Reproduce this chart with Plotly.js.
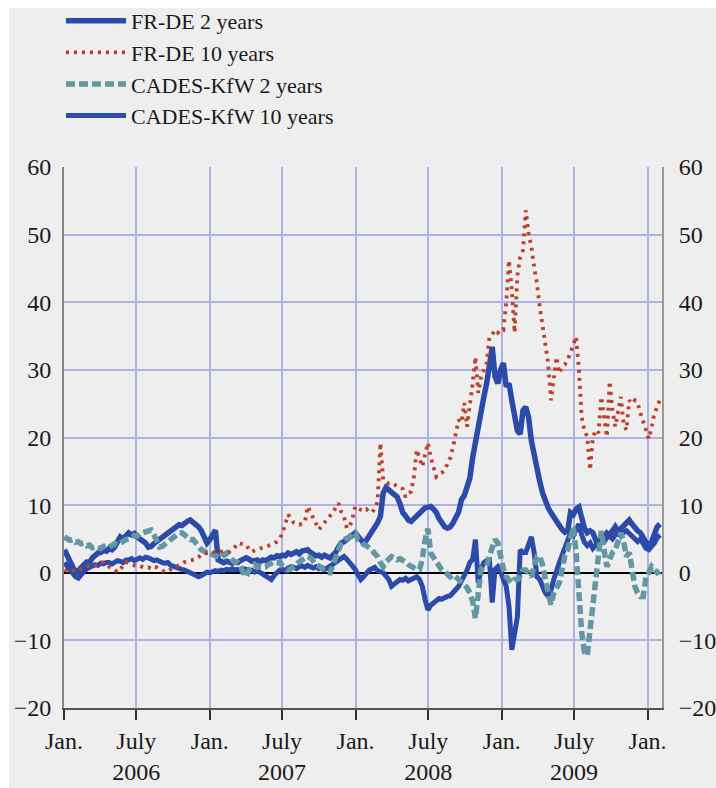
<!DOCTYPE html>
<html>
<head>
<meta charset="utf-8">
<script src="https://cdn.plot.ly/plotly-3.0.1.min.js"></script>
<style>
html,body{margin:0;padding:0;background:#ffffff;}
#chart{width:716px;height:788px;}
</style>
</head>
<body>
<div id="chart"></div>
<script>
// Weekly observations starting Monday 2 Jan 2006
const startDate = '2006-01-02';
const stepDays = 7;

// Spreads in basis points
const frde2y = [
  3.4, 2.6, 1.6, 0.8, 0.0, 0.3, 0.9, 1.2, 1.6, 1.5,
  2.2, 2.6, 2.9, 3.0, 3.3, 3.2, 3.6, 3.4, 3.8, 4.6,
  5.3, 5.0, 5.5, 5.9, 5.6, 5.8, 5.3, 5.0, 4.9, 4.4,
  3.8, 3.9, 4.3, 4.6, 4.9, 5.2, 5.6, 6.0, 6.3, 6.6,
  6.8, 7.1, 7.0, 7.4, 7.6, 7.8, 7.5, 7.2, 6.8, 6.2,
  5.3, 4.4, 4.9, 5.6, 6.3, 1.9, 1.6, 1.5, 1.7, 1.6,
  1.4, 1.6, 1.5, 1.8, 2.0, 2.2, 2.0, 1.7, 1.8, 1.9,
  1.6, 1.9, 1.8, 2.1, 2.3, 2.2, 2.5, 2.4, 2.6, 2.5,
  2.9, 2.7, 3.0, 3.1, 2.8, 3.2, 3.3, 3.4, 3.0, 2.7,
  2.5, 2.6, 2.3, 2.6, 2.4, 2.2, 2.6, 3.0, 3.8, 4.4,
  4.6, 4.9, 5.1, 5.6, 5.9, 5.4, 4.9, 4.4, 4.8, 5.4,
  5.9, 6.6, 7.4, 8.3, 11.8, 12.6, 12.3, 12.0, 11.6, 11.2,
  10.2, 8.9, 8.4, 7.8, 7.6, 8.0, 8.3, 8.8, 9.3, 9.6,
  9.7, 9.8, 9.4, 8.9, 8.0, 7.2, 6.8, 6.6, 6.8, 7.4,
  8.3, 9.0, 10.8, 11.4, 12.7, 14.0, 17.0, 19.5, 22.0, 24.0,
  26.0, 28.0, 31.0, 33.4, 29.0, 28.0, 30.0, 31.0, 27.5, 28.0,
  25.5, 23.5, 21.0, 20.5, 24.0, 24.5, 23.0, 19.5, 17.2, 15.2,
  13.5, 11.8, 10.6, 9.6, 8.9, 8.2, 7.4, 7.0, 6.4, 6.0,
  6.2, 8.9, 8.6, 9.4, 9.7, 7.8, 6.6, 5.9, 6.2, 5.9,
  4.8, 3.8, 4.6, 5.2, 5.9, 5.6, 6.2, 6.8, 6.1, 6.6,
  7.0, 7.5, 7.8, 7.2, 6.6, 6.2, 5.9, 5.2, 4.6, 3.8,
  4.6, 5.5, 6.8, 7.2
];

const frde10y = [
  0.4, 0.2, 0.1, 0.3, 0.5, 0.4, 0.6, 0.7, 0.9, 1.0,
  1.2, 1.1, 1.4, 1.6, 1.5, 1.3, 0.9, 0.7, 0.4, 0.1,
  0.5, 1.0, 1.6, 1.4, 1.2, 1.0, 0.9, 1.0, 0.8, 0.7,
  0.8, 0.6, 0.9, 0.8, 0.5, 0.3, 0.1, 0.3, 0.5, 0.7,
  0.8, 1.1, 1.3, 1.6, 1.7, 1.8, 1.9, 2.0, 2.3, 2.7,
  2.8, 2.9, 3.0, 3.1, 3.0, 2.9, 3.1, 3.2, 3.0, 3.1,
  3.4, 3.8, 4.4, 4.3, 4.2, 4.1, 3.5, 3.1, 3.3, 3.5,
  3.6, 3.7, 3.8, 4.0, 4.2, 4.4, 4.6, 5.0, 5.9, 7.2,
  8.6, 8.0, 7.4, 7.2, 7.1, 7.3, 7.5, 9.8, 8.9, 8.2,
  7.2, 6.4, 6.9, 7.4, 7.8, 8.4, 8.9, 9.6, 10.3, 9.0,
  8.3, 6.6, 6.8, 8.0, 9.8, 9.5, 9.3, 9.1, 9.4, 9.0,
  8.9, 9.5, 10.5, 19.2, 13.7, 13.5, 13.2, 13.3, 13.0, 12.8,
  12.6, 12.4, 11.2, 11.8, 12.0, 14.2, 18.2, 17.0, 15.7, 17.5,
  19.2, 17.1, 15.6, 14.2, 14.6, 14.8, 15.2, 16.2, 17.0, 18.6,
  20.7, 22.6, 22.2, 25.1, 21.6, 24.5, 28.0, 31.9, 26.6, 29.0,
  30.0, 31.0, 34.9, 35.2, 35.9, 35.5, 36.0, 35.9, 39.9, 46.2,
  41.8, 35.5, 44.0, 46.7, 47.7, 53.6, 50.2, 48.2, 45.2, 42.8,
  39.3, 36.3, 34.0, 31.0, 25.5, 29.0, 31.9, 29.5, 30.5, 30.8,
  31.5, 32.6, 34.0, 34.9, 30.0, 23.0, 21.0, 20.1, 15.2, 20.0,
  21.1, 20.7, 26.0, 22.5, 20.1, 28.3, 24.0, 21.6, 23.5, 26.0,
  22.0, 21.1, 25.5, 25.0, 25.5, 25.1, 23.6, 22.2, 21.0, 19.8,
  21.5, 23.6, 24.5, 25.7
];

const cades2y = [
  5.3, 5.0, 4.8, 4.9, 4.5, 4.6, 4.3, 4.4, 4.0, 4.1,
  3.7, 3.9, 3.8, 3.6, 3.9, 4.0, 3.8, 4.0, 4.3, 4.1,
  4.4, 4.6, 4.9, 5.0, 5.2, 5.5, 5.4, 5.8, 5.9, 6.0,
  6.2, 6.3, 5.6, 4.6, 3.8, 3.9, 4.2, 4.5, 4.9, 5.3,
  5.6, 5.9, 5.9, 5.6, 5.2, 4.9, 4.9, 4.4, 3.8, 3.4,
  3.2, 2.9, 2.9, 2.6, 2.5, 2.4, 2.2, 2.6, 2.9, 2.4,
  1.8, 1.5, 1.5, 1.0, 0.0, -0.6, 0.4, 0.9, 1.2, 0.8,
  1.0, 0.9, 0.9, 1.2, 1.4, 1.6, 1.5, 1.6, 1.0, 0.6,
  0.4, 0.6, 1.0, 1.3, 1.6, 1.9, 2.2, 2.4, 2.2, 1.6,
  1.2, 1.0, 0.6, 0.2, 0.0, 0.0, 1.2, 2.4, 3.6, 4.4,
  4.9, 5.0, 5.3, 5.9, 5.9, 4.9, 4.4, 4.2, 4.0, 3.8,
  3.4, 2.8, 2.4, 1.5, 0.9, 1.6, 2.0, 2.4, 2.2, 1.9,
  2.1, 1.9, 1.6, 1.2, 0.9, 0.7, 0.5, 0.5, 2.0, 4.9,
  6.5, 2.9, 2.2, 1.5, 1.0, 0.4, 0.2, -0.2, -0.6, -0.3,
  -0.8, -1.0, -1.4, -1.8, -2.2, -3.0, -4.2, -6.7, -2.0, 0.5,
  0.9, 1.0, 2.5, 4.0, 4.9, 4.4, 2.0, 0.5, -0.6, -1.2,
  -1.5, -1.0, -1.0, -0.5, 0.4, 0.4, -0.2, -0.6, 1.0, 2.4,
  2.4, 1.2, -1.0, -3.0, -4.7, -3.0, -2.0, -1.5, 0.5, 2.6,
  3.4, 5.3, 6.8, 3.0, -3.0, -8.9, -11.8, -12.2, -8.4, -4.4,
  0.0, 3.0, 6.2, 3.4, 0.9, 2.0, 3.0, 3.4, 4.9, 5.9,
  4.6, 2.4, 3.0, 0.2, -2.0, -3.0, -3.5, -3.5, -0.6, 0.0,
  0.9, 0.4, 0.0, 0.2
];

const cades10y = [
  1.5, 0.9, 0.5, 0.0, -0.6, -0.8, -0.2, 0.2, 0.6, 0.9,
  1.0, 1.2, 1.1, 1.4, 1.3, 1.5, 1.5, 1.3, 1.6, 1.8,
  1.7, 1.5, 1.9, 1.9, 2.1, 1.8, 2.0, 2.2, 2.0, 2.3,
  2.2, 2.0, 1.8, 1.9, 1.6, 1.5, 1.4, 1.5, 1.1, 0.9,
  0.8, 0.6, 0.5, 0.4, 0.2, 0.0, -0.3, -0.5, -0.6, -0.4,
  -0.2, 0.1, 0.0, 0.1, 0.3, 0.2, 0.4, 0.3, 0.5, 0.4,
  0.6, 0.4, 0.5, 0.3, 0.6, 0.5, 0.2, 0.4, 0.1, 0.3,
  0.0, -0.3, -0.6, -0.9, -1.0, -0.4, 0.0, 0.4, 0.5, 0.3,
  0.7, 0.9, 0.8, 0.6, 0.9, 1.0, 0.8, 1.1, 0.9, 0.7,
  0.9, 0.6, 0.8, 0.5, 0.7, 1.0, 1.3, 1.6, 2.0, 2.3,
  2.4, 2.0, 1.5, 1.0, 0.5, -0.3, -1.0, -0.6, 0.0, 0.4,
  0.6, 0.8, 0.3, 0.2, 0.0, -0.5, -1.0, -2.0, -1.7, -1.4,
  -1.0, -1.1, -0.8, -1.2, -1.0, -0.8, -0.6, -1.0, -2.0, -4.0,
  -5.5, -4.8, -4.4, -4.0, -3.8, -3.9, -3.6, -3.5, -3.4, -3.0,
  -2.6, -2.0, -1.2, -0.5, 0.4, 1.5, 2.0, 4.9, -1.5, 0.5,
  1.5, 1.8, 1.9, -4.4, 0.5, 0.9, 0.2, -1.0, -2.0, -5.0,
  -11.4, -9.0, -6.5, 3.4, 3.0, 3.0, 4.0, 5.3, 3.0, -0.6,
  -1.0, -2.0, -3.0, -3.5, -2.6, -1.0, 0.5, 1.5, 2.6, 3.8,
  5.0, 5.9, 5.5, 6.4, 7.2, 5.6, 4.5, 4.0, 4.4, 3.6,
  4.0, 4.6, 5.0, 4.6, 5.2, 5.4, 5.0, 5.6, 5.8, 5.4,
  6.0, 6.2, 5.8, 5.4, 5.0, 4.6, 5.0, 4.4, 3.6, 3.4,
  3.8, 4.4, 5.2, 5.6
];

const seriesNames = ['FR-DE 2 years', 'FR-DE 10 years', 'CADES-KfW 2 years', 'CADES-KfW 10 years'];
const xTickVals = ['2006-01-01','2006-07-01','2007-01-01','2007-07-01','2008-01-01','2008-07-01','2009-01-01','2009-07-01','2010-01-01'];
const xTickText = ['Jan.','July<br>2006','Jan.','July<br>2007','Jan.','July<br>2008','Jan.','July<br>2009','Jan.'];
const yTickVals = [-20,-10,0,10,20,30,40,50,60];

function buildDates(n) {
  const out = [];
  const t0 = Date.parse(startDate + 'T00:00:00Z');
  for (let i = 0; i < n; i++) {
    out.push(new Date(t0 + i * stepDays * 86400000).toISOString().slice(0, 10));
  }
  return out;
}
const dates = buildDates(frde2y.length);

const BLUE = '#2c4ba9';
const TEAL = '#6397a1';
const RED = '#bd3f2c';
const GRID = '#afb2e5';
const PANEL = '#eeeeee';

const traces = [
  {x: dates, y: cades10y, name: seriesNames[3], type: 'scatter', mode: 'lines',
   line: {color: BLUE, width: 5}, legendrank: 4},
  {x: dates, y: frde2y, name: seriesNames[0], type: 'scatter', mode: 'lines',
   line: {color: BLUE, width: 5.5}, legendrank: 1},
  {x: dates, y: cades2y, name: seriesNames[2], type: 'scatter', mode: 'lines',
   line: {color: TEAL, width: 5.5, dash: '9px,4px'}, legendrank: 3},
  {x: dates, y: frde10y, name: seriesNames[1], type: 'scatter', mode: 'lines',
   line: {color: RED, width: 3.8, dash: '3px,5px'}, legendrank: 2, yaxis: 'y2'}
];

const tickFont = {family: 'Liberation Serif', size: 24, color: '#1a1a1a'};

// plot area in pixels: x 64..662, y 167..708
const PW = 598, PH = 541;

const layout = {
  width: 716, height: 788,
  margin: {l: 64, r: 54, t: 167, b: 80},
  paper_bgcolor: '#ffffff',
  plot_bgcolor: PANEL,
  font: {family: 'Liberation Serif', size: 24, color: '#1a1a1a'},
  showlegend: true,
  legend: {
    xref: 'paper', yref: 'container',
    x: -0.005, y: 1.0, xanchor: 'left', yanchor: 'top',
    bgcolor: 'rgba(0,0,0,0)', font: {family: 'Liberation Serif', size: 22, color: '#1a1a1a'},
    itemwidth: 60, traceorder: 'normal'
  },
  shapes: [{
    type: 'rect', xref: 'paper', yref: 'paper', layer: 'below',
    x0: (9 - 64) / PW, x1: (716 - 64) / PW,
    y0: (708 - 788) / PH, y1: (708 - 8) / PH,
    fillcolor: PANEL, line: {width: 0}
  }],
  xaxis: {
    type: 'date', range: ['2006-01-01', '2010-02-06'], automargin: false,
    tickmode: 'array', tickvals: xTickVals, ticktext: xTickText, tickangle: 0,
    showgrid: true, gridcolor: GRID, gridwidth: 2,
    showline: true, linecolor: '#555555', linewidth: 2,
    ticks: 'outside', ticklen: 10, tickcolor: '#333333', tickwidth: 2,
    tickfont: tickFont, zeroline: false, fixedrange: true
  },
  yaxis: {
    range: [-20, 60], tickmode: 'array', tickvals: yTickVals, automargin: false,
    showgrid: true, gridcolor: GRID, gridwidth: 2,
    zeroline: true, zerolinecolor: '#000000', zerolinewidth: 1.5,
    showline: true, linecolor: '#888888', linewidth: 2,
    ticks: '', tickfont: tickFont, ticklabelstandoff: 6
  },
  yaxis2: {
    range: [-20, 60], tickmode: 'array', tickvals: yTickVals, automargin: false,
    overlaying: 'y', side: 'right',
    showgrid: false, zeroline: false,
    showline: true, linecolor: '#999999', linewidth: 2,
    ticks: '', tickfont: tickFont, ticklabelstandoff: 10
  }
};

Plotly.newPlot('chart', traces, layout, {displayModeBar: false, staticPlot: true});
</script>
</body>
</html>
